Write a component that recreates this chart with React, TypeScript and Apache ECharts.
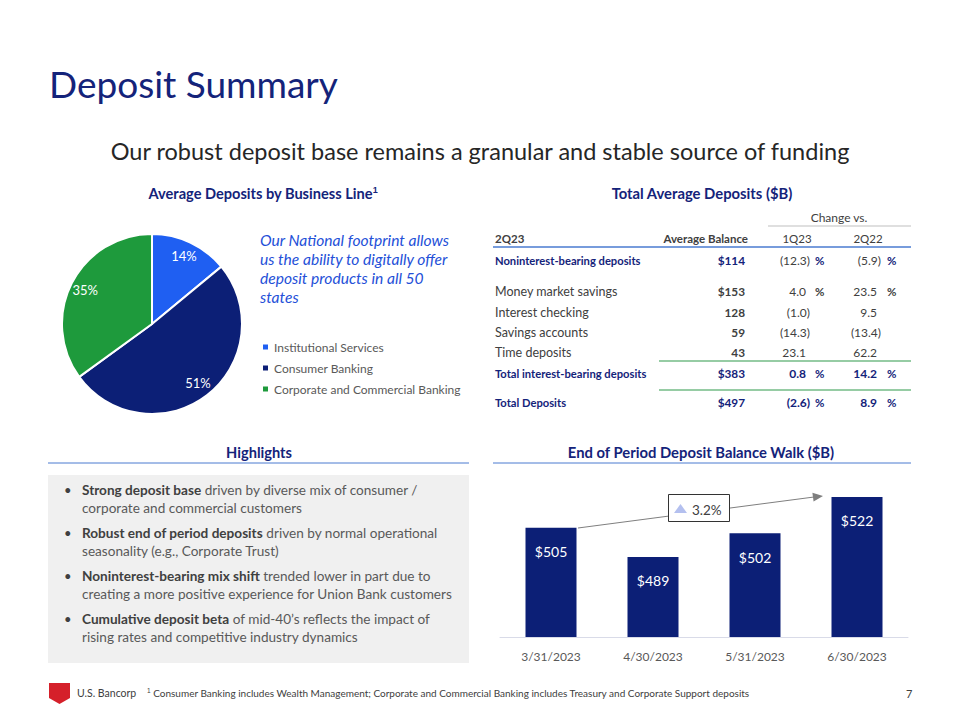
import React, { useEffect, useRef } from "react";
import * as echarts from "echarts";

// ---------- data ----------
const pieNames = ["Institutional Services", "Consumer Banking", "Corporate and Commercial Banking"];
const pieValues = [14, 51, 35];

const barCategories = ["3/31/2023", "4/30/2023", "5/31/2023", "6/30/2023"];
const barValues = [505, 489, 502, 522];
const growthLabel = "3.2%";

const tableHeader = ["2Q23", "Average Balance", "1Q23", "2Q22"];
const rowLabels = [
  "Noninterest-bearing deposits",
  "Money market savings",
  "Interest checking",
  "Savings accounts",
  "Time deposits",
  "Total interest-bearing deposits",
  "Total Deposits",
];
const avgBalance = ["$114", "$153", "128", "59", "43", "$383", "$497"];
const chg1Q23 = [-12.3, 4.0, -1.0, -14.3, 23.1, 0.8, -2.6];
const chg2Q22 = [-5.9, 23.5, 9.5, -13.4, 62.2, 14.2, 8.9];
const showPct = [true, true, false, false, false, true, true];
const rowIsTotal = [true, false, false, false, false, true, true];

const highlights = [
  ["Strong deposit base", " driven by diverse mix of consumer /", "corporate and commercial customers"],
  ["Robust end of period deposits", " driven by normal operational", "seasonality (e.g., Corporate Trust)"],
  ["Noninterest-bearing mix shift", " trended lower in part due to", "creating a more positive experience for Union Bank customers"],
  ["Cumulative deposit beta", " of mid-40\u2019s reflects the impact of", "rising rates and competitive industry dynamics"],
];

const footnote =
  "Consumer Banking includes Wealth Management; Corporate and Commercial Banking includes Treasury and Corporate Support deposits";

// ---------- styles ----------
const FONT = "Lato, 'Noto Sans', sans-serif";
const NAVY = "#14237a";
const GREY = "#404040";
const pieColors = ["#1f5ff2", "#0c1f76", "#1e9a3c"];
const BAR = "#0c1f76";

function fmt(v: number) {
  return v < 0 ? `(${Math.abs(v).toFixed(1)})` : v.toFixed(1);
}

function txt(x: number, y: number, text: string, o: any = {}) {
  return {
    type: "text",
    x,
    y,
    silent: true,
    style: {
      text,
      fill: o.fill || GREY,
      fontSize: o.size || 12,
      fontFamily: FONT,
      fontWeight: o.bold ? "bold" : "normal",
      fontStyle: o.italic ? "italic" : "normal",
      align: o.align || "left",
      verticalAlign: "middle",
      rich: o.rich,
    },
  };
}

export default function App() {
  const ref = useRef<HTMLDivElement>(null);
  useEffect(() => {
    if (!ref.current) return;
    const chart = echarts.init(ref.current, undefined, { renderer: "svg" });

    const g: any[] = [];
    // Titles
    g.push(txt(49, 83, "Deposit Summary", { size: 37, fill: NAVY }));
    g.push(
      txt(480, 151, "Our robust deposit base remains a granular and stable source of funding", {
        size: 23.5,
        fill: "#262626",
        align: "center",
      })
    );
    g.push(
      txt(263, 193, "Average Deposits by Business Line{s|1}", {
        size: 14.6,
        bold: true,
        fill: NAVY,
        align: "center",
        rich: { s: { fontSize: 9, fontWeight: "bold", fill: NAVY, verticalAlign: "top", padding: [0, 0, 7, 0] } },
      })
    );
    g.push(txt(702, 193, "Total Average Deposits ($B)", { size: 14.8, bold: true, fill: NAVY, align: "center" }));

    // Italic note
    ["Our National footprint allows", "us the ability to digitally offer", "deposit products in all 50", "states"].forEach(
      (l, i) => g.push(txt(260, 240 + i * 19, l, { size: 15.6, italic: true, fill: "#2450d8" }))
    );

    // Table
    g.push(txt(839, 217, "Change vs.", { size: 12, align: "center" }));
    g.push({ type: "line", shape: { x1: 768, y1: 226, x2: 911, y2: 226 }, style: { stroke: "#bfbfbf", lineWidth: 1 } });
    g.push(txt(495, 238, tableHeader[0], { size: 11.5, bold: true }));
    g.push(txt(748, 238, tableHeader[1], { size: 11.5, bold: true, align: "right" }));
    g.push(txt(797, 238, tableHeader[2], { size: 11.5, align: "center" }));
    g.push(txt(868, 238, tableHeader[3], { size: 11.5, align: "center" }));
    g.push({ type: "line", shape: { x1: 493, y1: 247, x2: 911, y2: 247 }, style: { stroke: "#4a7bd0", lineWidth: 1.5 } });
    const rowY = [260, 291, 312, 332, 352, 373, 402];
    rowLabels.forEach((lab, i) => {
      const tot = rowIsTotal[i];
      const fill = tot ? NAVY : GREY;
      const y = rowY[i];
      g.push(txt(495, y, lab, { size: tot ? 11.2 : 12.5, bold: tot, fill }));
      g.push(txt(745, y, avgBalance[i], { size: 11.8, bold: true, fill, align: "right" }));
      const a = chg1Q23[i];
      const b = chg2Q22[i];
      const valBold = tot && i !== 0;
      const valFill = i === 0 ? GREY : fill;
      g.push(txt(a < 0 ? 810 : 806, y, fmt(a), { size: 12, bold: valBold, fill: valFill, align: "right" }));
      g.push(txt(b < 0 ? 881 : 877, y, fmt(b), { size: 12, bold: valBold, fill: valFill, align: "right" }));
      if (showPct[i]) {
        g.push(txt(815, y, "%", { size: 11.5, bold: true, fill }));
        g.push(txt(887, y, "%", { size: 11.5, bold: true, fill }));
      }
    });
    g.push({ type: "line", shape: { x1: 659, y1: 361, x2: 911, y2: 361 }, style: { stroke: "#2e9a4a", lineWidth: 1.2 } });
    g.push({ type: "line", shape: { x1: 659, y1: 390, x2: 911, y2: 390 }, style: { stroke: "#2e9a4a", lineWidth: 1.2 } });

    // Highlights
    g.push(txt(259, 452, "Highlights", { size: 14.6, bold: true, fill: NAVY, align: "center" }));
    g.push({ type: "line", shape: { x1: 48, y1: 463, x2: 469, y2: 463 }, style: { stroke: "#4a7bd0", lineWidth: 1 } });
    g.push({ type: "rect", shape: { x: 48, y: 475, width: 421, height: 188 }, style: { fill: "#f0f0f0" }, z: -1 });
    highlights.forEach((h, i) => {
      const y = 490 + i * 43;
      g.push(txt(64, y, "\u2022", { size: 13, fill: "#404040" }));
      g.push(
        txt(82, y, `{b|${h[0]}}${h[1]}`, {
          size: 13.6,
          fill: "#595959",
          rich: { b: { fontWeight: "bold", fill: "#404040", fontSize: 13.6, fontFamily: FONT } },
        })
      );
      g.push(txt(82, y + 18, h[2], { size: 13.6, fill: "#595959" }));
    });

    // Bar chart title
    g.push(txt(701, 452, "End of Period Deposit Balance Walk ($B)", { size: 14.8, bold: true, fill: NAVY, align: "center" }));
    g.push({ type: "line", shape: { x1: 493, y1: 463, x2: 911, y2: 463 }, style: { stroke: "#4a7bd0", lineWidth: 1 } });

    // Growth arrow annotation
    g.push({ type: "line", shape: { x1: 578, y1: 528, x2: 814, y2: 497 }, style: { stroke: "#7f7f7f", lineWidth: 1 } });
    g.push({
      type: "polygon",
      shape: { points: [[823, 496], [813.6, 501.5], [812.4, 492.7]] },
      style: { fill: "#7f7f7f" },
    });
    g.push({
      type: "rect",
      shape: { x: 668.5, y: 494.5, width: 61, height: 27 },
      style: { fill: "#ffffff", stroke: "#333333", lineWidth: 1 },
    });
    g.push({
      type: "polygon",
      shape: { points: [[680.5, 504], [674, 513], [687, 513]] },
      style: { fill: "#b4c0ef" },
    });
    g.push(txt(692, 510, growthLabel, { size: 13.5, fill: "#404040" }));

    // Footer
    g.push({
      type: "polygon",
      shape: { points: [[49, 683], [70, 683], [70, 698], [59.5, 704], [49, 698]] },
      style: { fill: "#d5202a" },
    });
    g.push(txt(77, 693, "U.S. Bancorp", { size: 10.5, fill: GREY }));
    g.push(
      txt(147, 693, `{s|1} ${footnote}`, {
        size: 10,
        fill: GREY,
        rich: { s: { fontSize: 6.5, fill: GREY, verticalAlign: "top", padding: [0, 0, 5, 0] } },
      })
    );
    g.push(txt(906, 693, "7", { size: 11, fill: GREY }));

    const pieData = pieNames.map((n, i) => ({ name: n, value: pieValues[i], itemStyle: { color: pieColors[i] } }));

    chart.setOption({
      animation: false,
      backgroundColor: "#ffffff",
      legend: {
        orient: "vertical",
        left: 256,
        top: 336,
        itemWidth: 7,
        itemHeight: 7,
        itemGap: 9,
        icon: "rect",
        data: pieNames,
        textStyle: { color: "#595959", fontSize: 12, fontFamily: FONT },
        selectedMode: false,
      },
      grid: { left: 500, right: 52, top: 446, bottom: 83 },
      xAxis: {
        type: "category",
        data: barCategories,
        axisLine: { lineStyle: { color: "#d9dbe8", width: 1 } },
        axisTick: { show: false },
        axisLabel: { color: "#595959", fontSize: 12, fontFamily: FONT, margin: 13 },
      },
      yAxis: { type: "value", min: 445, max: 550, show: false, splitLine: { show: false } },
      series: [
        {
          type: "pie",
          center: [152, 324],
          radius: [0, 90],
          data: pieData,
          label: { show: false },
          labelLine: { show: false },
          itemStyle: { borderColor: "#ffffff", borderWidth: 2 },
          silent: true,
        },
        {
          type: "pie",
          center: [152, 324],
          radius: [54, 90],
          data: pieNames.map((n, i) => ({ name: n, value: pieValues[i], itemStyle: { color: "rgba(0,0,0,0)" } })),
          label: {
            show: true,
            position: "inside",
            formatter: "{c}%",
            color: "#ffffff",
            fontSize: 13,
            fontFamily: FONT,
          },
          labelLine: { show: false },
          silent: true,
          z: 3,
        },
        {
          type: "bar",
          data: barValues,
          barWidth: 51,
          itemStyle: { color: BAR },
          label: {
            show: true,
            position: "insideTop",
            distance: 17,
            formatter: "${c}",
            color: "#ffffff",
            fontSize: 14,
            fontFamily: FONT,
          },
          silent: true,
        },
      ],
      graphic: g,
    });
    return () => chart.dispose();
  }, []);
  return (
    <div
      ref={ref}
      style={{ position: "absolute", left: 0, top: 0, width: 960, height: 720, background: "#fff" }}
    />
  );
}
